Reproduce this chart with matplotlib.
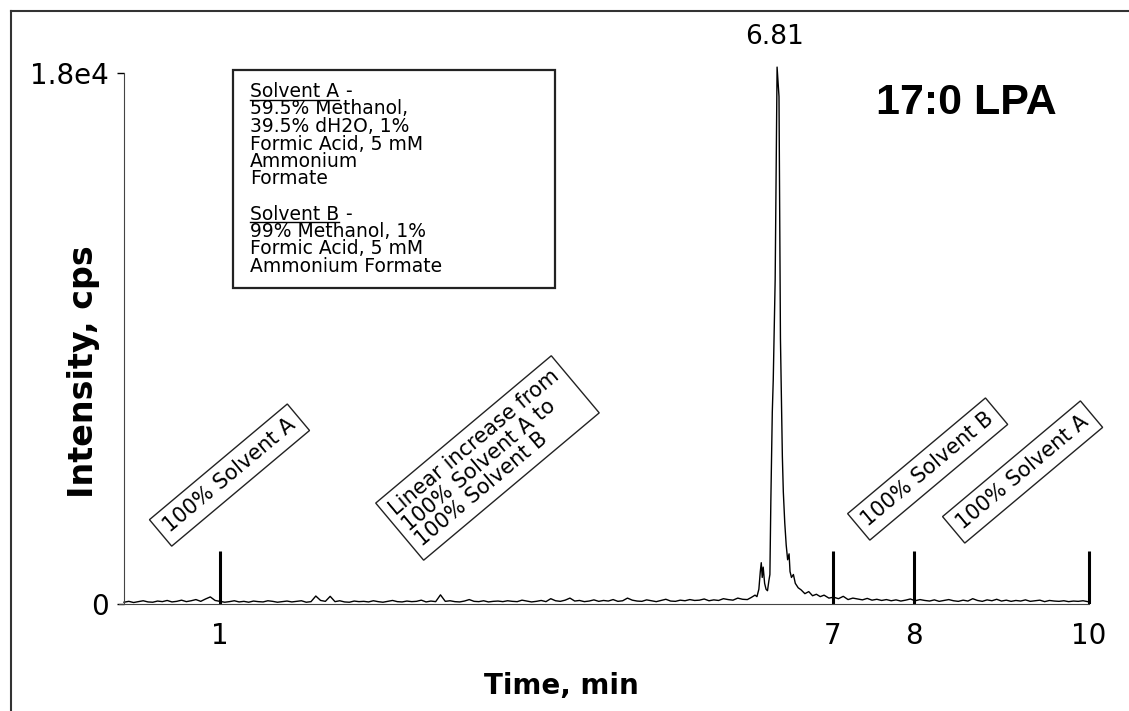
import numpy as np
import matplotlib.pyplot as plt
from matplotlib.lines import Line2D
from matplotlib.patches import Rectangle

# baseline noise, 0.00-6.45 min every 0.05 min (cps)
base_early = [60, 90, 50, 80, 110, 70, 60, 100, 80, 120, 70, 90, 130, 80, 110, 150, 90, 170, 240, 120,
              90, 60, 80, 110, 70, 90, 60, 100, 80, 70, 110, 90, 60, 80, 100, 70, 90, 110, 60, 80,
              270, 120, 90, 260, 80, 110, 70, 60, 100, 80, 90, 70, 110, 80, 60, 90, 120, 80, 70, 100,
              80, 90, 130, 70, 100, 80, 310, 90, 110, 80, 70, 100, 150, 90, 80, 110, 70, 90, 100, 80,
              110, 90, 80, 130, 100, 70, 90, 120, 80, 180, 110, 90, 130, 200, 100, 120, 80, 100, 140, 90,
              120, 100, 150, 90, 110, 200, 130, 100, 90, 140, 110, 80, 120, 160, 100, 90, 130, 110, 150, 120,
              130, 170, 110, 140, 120, 180, 150, 130, 200, 160]

# peak region around 6.81 min
peak_t = [6.50, 6.54, 6.58, 6.60, 6.62, 6.635, 6.645, 6.655, 6.665, 6.68, 6.695, 6.71, 6.725,
          6.735, 6.745, 6.76, 6.77, 6.79, 6.81, 6.83, 6.845, 6.855, 6.865, 6.875, 6.89, 6.905,
          6.92, 6.935, 6.945, 6.96, 6.98, 7.00, 7.03, 7.06, 7.10, 7.14, 7.18, 7.22, 7.26, 7.30, 7.35]
peak_i = [150, 220, 300, 250, 500, 1100, 1400, 900, 1250, 700, 500, 450, 800,
          1000, 3500, 6500, 7600, 11000, 18200, 17200, 9000, 7000, 5000, 3800, 2750, 2000,
          1500, 1700, 1100, 900, 1000, 700, 550, 480, 350, 420, 280, 330, 250, 300, 200]

# baseline noise, 7.40-10.05 min every 0.05 min (cps)
base_late = [230, 180, 260, 150, 200, 170, 140, 190, 130, 160, 120, 150, 110, 140, 100, 130, 170, 110, 150, 120,
             100, 140, 90, 120, 150, 110, 90, 130, 100, 180, 120, 90, 140, 110, 160, 100, 130, 90, 120, 100,
             140, 90, 110, 130, 80, 120, 100, 90, 110, 80, 100, 90, 110, 80]

# gradient markers
marker_x = [1.0, 7.39, 8.24, 10.06]
marker_labels = ["1", "7", "8", "10"]
marker_h = 1800

gradient_labels = ["100% Solvent A",
                   "Linear increase from\n100% Solvent A to\n100% Solvent B",
                   "100% Solvent B",
                   "100% Solvent A"]
gradient_x = [1.10, 3.79, 8.38, 9.37]
gradient_y = [4370, 4950, 4575, 4475]

legend_lines = ["Solvent A", "59.5% Methanol,", "39.5% dH2O, 1%", "Formic Acid, 5 mM",
                "Ammonium", "Formate", "", "Solvent B", "99% Methanol, 1%",
                "Formic Acid, 5 mM", "Ammonium Formate"]

t = np.concatenate([np.round(np.arange(len(base_early)) * 0.05, 2), peak_t,
                    np.round(7.40 + np.arange(len(base_late)) * 0.05, 2)])
intensity = np.concatenate([base_early, peak_i, base_late])

W, H = 1129, 711


def fx(px):
    return px / W


def fy(py):
    return 1 - py / H


fig = plt.figure(figsize=(W / 100, H / 100), dpi=100)
ax = fig.add_axes([fx(124), fy(604), (1092.6 - 124) / W, (604 - 61.2) / H])

ax.plot(t, intensity, color="black", lw=1.0, clip_on=False)
ax.vlines(marker_x, 0, marker_h, color="black", lw=2.2)

ax.set_xlim(0, 10.1)
ax.set_ylim(0, 18400)
for s in ["top", "right"]:
    ax.spines[s].set_visible(False)
ax.spines["left"].set_bounds(0, 18000)
ax.spines["bottom"].set_bounds(-0.05, 10.06)
ax.spines["left"].set_color("#444444")
ax.spines["bottom"].set_color("#444444")

ax.set_yticks([0, 18000], ["0", "1.8e4"])
ax.set_xticks(marker_x, marker_labels)
ax.tick_params(axis="x", length=0, pad=13, labelsize=20)
ax.tick_params(axis="y", length=5, width=1, pad=6, labelsize=20)

ax.set_xlabel("Time, min", fontsize=20, fontweight="bold")
ax.set_ylabel("Intensity, cps", fontsize=24, fontweight="bold")
ax.xaxis.set_label_coords((561 - 124) / 968.6, -(672 - 604) / 542.8)
ax.yaxis.set_label_coords((100 - 124) / 968.6, (604 - 372) / 542.8)

peak_idx = int(np.argmax(intensity))
ax.annotate("6.81", xy=(t[peak_idx], intensity[peak_idx]), xytext=(-2, 12),
            textcoords="offset points", ha="center", va="bottom", fontsize=19)

for lab, gx, gy in zip(gradient_labels, gradient_x, gradient_y):
    ax.text(gx, gy, lab, rotation=40, rotation_mode="anchor", ha="center", va="center",
            multialignment="left", linespacing=1.0, fontsize=15,
            bbox=dict(boxstyle="square,pad=0.35", fc="white", ec="#222222", lw=1.0))

fig.text(fx(966), fy(103.5), "17:0 LPA", ha="center", va="center", fontsize=31,
         fontweight="bold", fontstretch="condensed", family=["Liberation Sans", "DejaVu Sans"])

# solvent legend box
fig.add_artist(Rectangle((fx(233), fy(288)), (555 - 233) / W, (288 - 70) / H,
                         transform=fig.transFigure, fill=False, ec="#222222", lw=1.6))
renderer = fig.canvas.get_renderer()
for i, line in enumerate(legend_lines):
    if not line:
        continue
    base_py = 97 + i * 17.5
    txt = fig.text(fx(250), fy(base_py), line, ha="left", va="baseline", fontsize=13.5)
    if line.startswith("Solvent"):
        bb = txt.get_window_extent(renderer)
        fig.text(bb.x1 / W + fx(6), fy(base_py), "-", ha="left", va="baseline", fontsize=13.5)
        fig.add_artist(Line2D([bb.x0 / W, bb.x1 / W], [fy(base_py + 2.5)] * 2,
                              transform=fig.transFigure, color="black", lw=1.0))

# picture frame (left and top edges only)
fig.add_artist(Line2D([fx(10.5), fx(10.5)], [0, fy(10.5)], transform=fig.transFigure,
                      color="#333333", lw=1.5))
fig.add_artist(Line2D([fx(10.5), 1], [fy(10.5), fy(10.5)], transform=fig.transFigure,
                      color="#333333", lw=1.5))

fig.savefig("out.png", dpi=100)
